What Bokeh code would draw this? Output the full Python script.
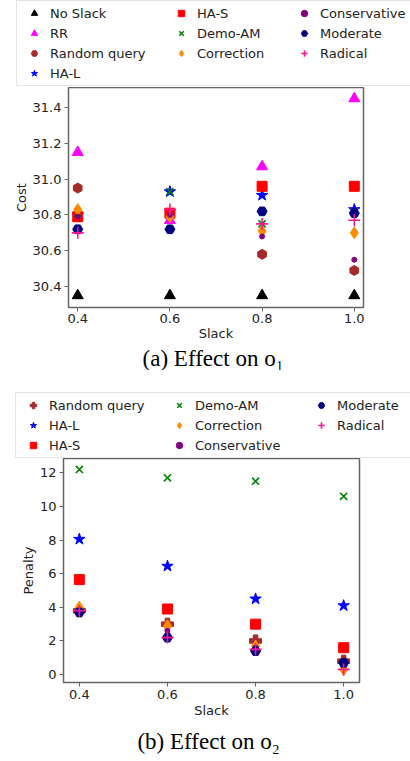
from bokeh.plotting import figure
from bokeh.models import Legend, LegendItem, FixedTicker, NumeralTickFormatter, Title, Range1d
from bokeh.layouts import column
from bokeh.embed import file_html
from bokeh.resources import INLINE
from math import pi

slack = [0.4, 0.6, 0.8, 1.0]

# Panel (a): Cost
cost_no_slack = [30.35, 30.35, 30.35, 30.35]
cost_rr = [31.15, 30.77, 31.07, 31.45]
cost_random = [30.95, 30.80, 30.58, 30.49]
cost_hal = [30.80, 30.93, 30.91, 30.83]
cost_has = [30.79, 30.81, 30.96, 30.96]
cost_demo = [30.81, 30.93, 30.75, 30.82]
cost_correction = [30.83, 30.79, 30.71, 30.70]
cost_conservative = [30.79, 30.80, 30.68, 30.55]
cost_moderate = [30.72, 30.72, 30.82, 30.81]
cost_radical = [30.70, 30.83, 30.75, 30.77]

# Panel (b): Penalty
pen_random = [3.8, 3.0, 2.0, 0.8]
pen_hal = [8.05, 6.45, 4.5, 4.1]
pen_has = [5.65, 3.9, 3.0, 1.6]
pen_demo = [12.2, 11.7, 11.5, 10.6]
pen_correction = [4.0, 2.9, 1.7, 0.3]
pen_conservative = [3.8, 2.6, 1.6, 0.6]
pen_moderate = [3.7, 2.2, 1.4, 0.7]
pen_radical = [3.8, 2.2, 1.5, 0.3]

cost_ticks = [30.4, 30.6, 30.8, 31.0, 31.2, 31.4]
pen_ticks = [0, 2, 4, 6, 8, 10, 12]

FONT = "DejaVu Sans"
FS = "13px"
W = 410


def no_align(p):
    if "frame_align" in p.properties():
        p.frame_align = False


def style(p, yticks, yfmt, ylabel, label_standoff=3, title_standoff=1):
    p.xaxis.ticker = FixedTicker(ticks=slack)
    p.xaxis.formatter = NumeralTickFormatter(format="0.0")
    p.yaxis.ticker = FixedTicker(ticks=yticks)
    p.yaxis.formatter = NumeralTickFormatter(format=yfmt)
    p.xaxis.axis_label = "Slack"
    p.yaxis.axis_label = ylabel
    for ax in (p.xaxis, p.yaxis):
        ax.major_label_text_font = FONT
        ax.major_label_text_font_size = FS
        ax.major_label_text_color = "#222222"
        ax.axis_label_text_font = FONT
        ax.axis_label_text_font_size = FS
        ax.axis_label_text_font_style = "normal"
        ax.axis_label_text_color = "#222222"
        ax.axis_label_standoff = 1
        ax.major_label_standoff = 3
        ax.minor_tick_line_color = None
        ax.major_tick_in = 0
        ax.major_tick_out = 4
        ax.axis_line_color = "#666666"
        ax.major_tick_line_color = "#666666"
    p.xaxis.major_label_standoff = label_standoff
    p.xaxis.axis_label_standoff = title_standoff
    p.xgrid.grid_line_color = None
    p.ygrid.grid_line_color = None
    p.outline_line_color = "#666666"
    p.outline_line_width = 1.5
    p.background_fill_color = "white"
    p.border_fill_color = "white"
    no_align(p)


def add_series(p, lp, specs):
    items = []
    for name, vals, marker, color, size, angle in specs:
        lw = 1.6 if marker in ("x", "cross") else 1
        kw = dict(marker=marker, size=size, angle=angle,
                  fill_color=color, line_color=color, line_width=lw)
        p.scatter(x=slack, y=vals, **kw)
        # hidden copy (outside the visible range) that feeds the legend
        r = lp.scatter(x=[-10], y=[-10], **kw)
        items.append(LegendItem(label=name, renderers=[r]))
    return items


def legend_fig(height):
    lp = figure(width=W, height=height, output_backend="svg", toolbar_location=None,
                x_range=Range1d(0, 1), y_range=Range1d(0, 1),
                x_axis_location=None, y_axis_location=None,
                min_border_left=0, min_border_right=0,
                min_border_top=0, min_border_bottom=0)
    lp.outline_line_color = None
    lp.xgrid.grid_line_color = None
    lp.ygrid.grid_line_color = None
    no_align(lp)
    return lp


def add_legend_col(lp, items, loc, boxed):
    leg = Legend(items=items, location=loc,
                 label_text_font=FONT, label_text_font_size=FS,
                 label_text_color="#222222",
                 label_height=16, glyph_height=16, glyph_width=26,
                 label_width=420 if boxed else 20,
                 spacing=4, padding=4, margin=0, label_standoff=3,
                 border_line_color="#cccccc" if boxed else None, border_line_width=1,
                 background_fill_color="white",
                 background_fill_alpha=1 if boxed else 0)
    lp.add_layout(leg, "center")


def add_caption(p, text, standoff):
    t = Title(text=text, align="center", text_font="Liberation Serif",
              text_font_size="23px", text_font_style="normal", text_color="black",
              standoff=standoff)
    p.add_layout(t, "below")


# ---- Panel (a)
lp1 = legend_fig(87)
p1 = figure(frame_width=295, frame_height=220, output_backend="svg", toolbar_location=None,
            x_range=Range1d(0.38, 1.02), y_range=Range1d(30.283, 31.512),
            min_border_left=68, min_border_right=47, min_border_top=0, min_border_bottom=50)
style(p1, cost_ticks, "0.0", "Cost", label_standoff=2, title_standoff=0)
specs1 = [
    ("No Slack", cost_no_slack, "triangle", "black", 11, 0),
    ("RR", cost_rr, "triangle", "#ff00ff", 11, 0),
    ("Random query", cost_random, "hex", "#a52a2a", 10, pi / 6),
    ("HA-L", cost_hal, "star", "blue", 12, 0),
    ("HA-S", cost_has, "square", "red", 10, 0),
    ("Demo-AM", cost_demo, "x", "green", 10, 0),
    ("Correction", cost_correction, "diamond", "#ff8c00", 12, 0),
    ("Conservative", cost_conservative, "circle", "purple", 5, 0),
    ("Moderate", cost_moderate, "hex", "navy", 10, 0),
    ("Radical", cost_radical, "cross", "#ff1493", 12, 0),
]
it1 = add_series(p1, lp1, specs1)
add_legend_col(lp1, it1[0:4], (16, 1), True)
add_legend_col(lp1, it1[4:7], (168, 26), False)
add_legend_col(lp1, it1[7:10], (291, 26), False)
add_caption(p1, "(a)  Effect on o\u2081", 0)

# ---- Panel (b)
lp2 = legend_fig(88)
p2 = figure(frame_width=296, frame_height=224, output_backend="svg", toolbar_location=None,
            x_range=Range1d(0.364, 1.036), y_range=Range1d(-0.47, 12.85),
            min_border_left=63, min_border_right=51, min_border_top=0, min_border_bottom=76)
style(p2, pen_ticks, "0", "Penalty")
specs2 = [
    ("Random query", pen_random, "plus", "#a52a2a", 12, 0),
    ("HA-L", pen_hal, "star", "blue", 12, 0),
    ("HA-S", pen_has, "square", "red", 10, 0),
    ("Demo-AM", pen_demo, "x", "green", 10, 0),
    ("Correction", pen_correction, "diamond", "#ff8c00", 12, 0),
    ("Conservative", pen_conservative, "circle", "purple", 5, 0),
    ("Moderate", pen_moderate, "hex", "navy", 10, 0),
    ("Radical", pen_radical, "cross", "#ff1493", 12, 0),
]
it2 = add_series(p2, lp2, specs2)
add_legend_col(lp2, it2[0:3], (15, 0), True)
add_legend_col(lp2, it2[3:6], (166, 5), False)
add_legend_col(lp2, it2[6:8], (308, 25), False)
add_caption(p2, "(b)  Effect on o\u2082", 12)

layout = column(lp1, p1, lp2, p2, spacing=0)
open("out.html", "w").write(file_html(layout, INLINE))
